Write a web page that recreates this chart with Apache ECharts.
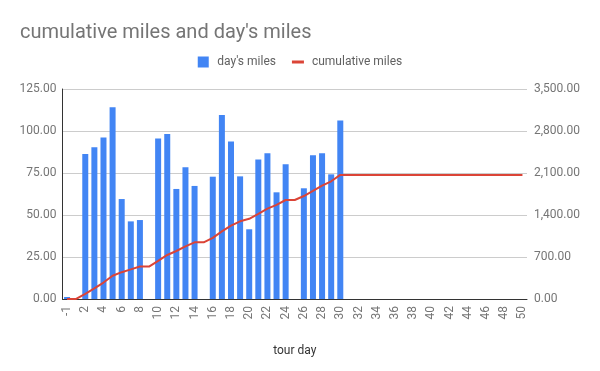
<!DOCTYPE html>
<html><head><meta charset="utf-8">
<script src="https://cdn.jsdelivr.net/npm/echarts@6/dist/echarts.min.js"></script>
<style>html,body{margin:0;padding:0;background:#fff}#c{width:600px;height:371px}</style>
</head><body><div id="c"></div>
<script>
const days = ['-1','1','2','3','4','5','6','7','8','9','10','11','12','13','14','15','16','17','18','19','20','21','22','23','24','25','26','27','28','29','30','31','32','33','34','35','36','37','38','39','40','41','42','43','44','45','46','47','48','49','50'];
const dayMiles = [1.2,null,86.3,90.3,96.2,114.1,59.5,46.2,47.0,null,95.6,98.2,65.5,78.4,67.3,null,72.8,109.5,93.8,73.0,41.5,83.1,86.7,63.5,80.2,null,65.9,85.5,86.7,74.2,106.3,null,null,null,null,null,null,null,null,null,null,null,null,null,null,null,null,null,null,null,null];
const cumulativeMiles = [1,1,87,178,274,388,447,494,541,541,636,734,800,878,945,945,1018,1128,1222,1295,1336,1419,1506,1570,1650,1650,1716,1801,1888,1962,2068,2068,2068,2068,2068,2068,2068,2068,2068,2068,2068,2068,2068,2068,2068,2068,2068,2068,2068,2068,2068];
const leftTicks = {min:0,max:125,interval:25};
const rightTicks = {min:0,max:3500,interval:700};

const fnt = 'Roboto';
const chart = echarts.init(document.getElementById('c'));
chart.setOption({
  animation:false,
  textStyle:{fontFamily:fnt},
  title:{text:"cumulative miles and day's miles",left:15,top:18,textStyle:{fontFamily:fnt,fontSize:20,fontWeight:'normal',color:'#757575'}},
  legend:{top:56,left:'center',itemWidth:12,itemHeight:11,itemGap:16,symbolKeepAspect:true,padding:0,
    textStyle:{fontFamily:fnt,fontSize:12,color:'#616161',padding:[0,0,0,3]},
    data:[{name:"day's miles",icon:'path://M0,0 L11,0 L11,11 L0,11 Z'},{name:'cumulative miles',icon:'path://M0,0 L12,0 L12,3 L0,3 Z'}]},
  grid:{left:62.5,right:73,top:89,bottom:72},
  xAxis:{type:'category',data:days,name:'tour day',nameLocation:'middle',nameGap:46,
    nameTextStyle:{fontFamily:fnt,fontSize:12,color:'#333'},
    axisLine:{lineStyle:{color:'#333',width:1}},axisTick:{show:false},
    axisLabel:{interval:1,rotate:90,fontSize:12,color:'#757575',margin:7}},
  yAxis:[
    {type:'value',min:leftTicks.min,max:leftTicks.max,interval:leftTicks.interval,
      axisLine:{show:true,lineStyle:{color:'#333'}},axisTick:{show:false},
      splitLine:{lineStyle:{color:'#ccc'}},
      axisLabel:{fontSize:12,color:'#757575',margin:6,formatter:v=>v.toFixed(2)}},
    {type:'value',min:rightTicks.min,max:rightTicks.max,interval:rightTicks.interval,
      axisLine:{show:false},axisTick:{show:false},splitLine:{show:false},
      axisLabel:{fontSize:12,color:'#757575',margin:7,formatter:v=>v.toLocaleString('en-US',{minimumFractionDigits:2,maximumFractionDigits:2})}}
  ],
  series:[
    {name:"day's miles",type:'bar',data:dayMiles,barWidth:6,itemStyle:{color:'#4285f4'},yAxisIndex:0},
    {name:'cumulative miles',type:'line',data:cumulativeMiles,yAxisIndex:1,symbol:'none',lineStyle:{color:'#db4437',width:2},itemStyle:{color:'#db4437'}}
  ]
});
</script></body></html>
